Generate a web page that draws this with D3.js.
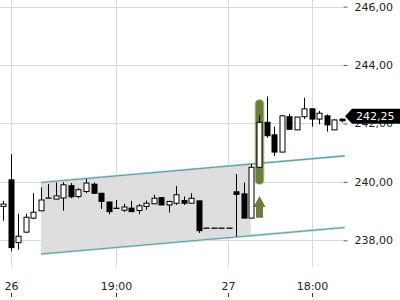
<!DOCTYPE html>
<html>
<head>
<meta charset="utf-8">
<script src="https://cdn.jsdelivr.net/npm/d3@7"></script>
<style>
  body { margin: 0; background: #fff; }
  svg { display: block; font-family: "DejaVu Sans", sans-serif; }
</style>
</head>
<body>
<svg id="chart"></svg>
<script>
// 15 min candles, index 0 = last candle of the previous day
const opens  = [239.16, 240.07, 237.92, 238.28, 238.76, 239.01, 239.45, 239.41, 239.45, 239.87,
                239.50, 239.67, 239.92, 239.61, 239.31, 239.10, 239.03, 239.10, 239.02, 239.16,
                239.25, 239.46, 239.21, 239.27, 239.36, 239.27, 239.35, 238.42, 238.42, 238.42,
                238.42, 239.66, 239.59, 238.76, 240.50, 242.04, 241.61, 241.02, 242.23, 241.78,
                242.23, 242.50, 242.15, 242.26, 241.78, 242.15];
const highs  = [239.35, 240.95, 238.91, 238.91, 239.61, 239.82, 239.93, 239.98, 239.99, 239.96,
                239.78, 240.10, 239.98, 239.62, 239.32, 239.38, 239.25, 239.35, 239.24, 239.36,
                239.56, 239.46, 239.35, 239.86, 239.50, 239.61, 239.35, 238.42, 238.42, 238.42,
                238.42, 240.27, 239.98, 240.62, 242.29, 242.92, 241.89, 242.29, 242.32, 242.22,
                242.88, 242.50, 242.43, 242.31, 242.15, 242.15];
const lows   = [238.67, 237.62, 237.68, 238.26, 238.72, 239.00, 239.45, 239.41, 239.01, 239.44,
                239.44, 239.61, 239.59, 239.07, 238.89, 239.10, 238.97, 238.97, 238.89, 239.04,
                239.25, 239.21, 238.95, 239.21, 239.21, 239.27, 238.25, 238.42, 238.42, 238.42,
                238.42, 238.13, 238.76, 238.76, 240.48, 241.51, 240.89, 241.02, 241.80, 241.78,
                242.15, 241.89, 241.97, 241.72, 241.78, 242.04];
const closes = [239.24, 237.75, 238.14, 238.79, 238.96, 239.38, 239.45, 239.52, 239.90, 239.49,
                239.73, 239.96, 239.61, 239.33, 238.98, 239.10, 239.14, 238.98, 239.18, 239.27,
                239.44, 239.21, 239.33, 239.56, 239.27, 239.44, 238.33, 238.42, 238.42, 238.42,
                238.42, 239.57, 238.76, 240.50, 242.04, 241.58, 241.02, 242.26, 241.80, 242.22,
                242.50, 242.15, 242.35, 241.95, 242.12, 242.09];

const timeTicks  = [1, 15, 29.85, 41];
const timeLabels = ["26", "19:00", "27", "18:00"];
const priceTicks = [238, 240, 242, 244, 246];
const lastPrice = 242.25;

// trend channel: [index, upper, lower] at start and end
const channelStart = [5, 239.98, 237.53];
const channelEnd   = [45.4, 240.89, 238.44];
const channelFillEnd = 32.9;

// breakout marker
const markIndex = 34;
const markRange = [239.93, 242.8];
const arrowRange = [238.77, 239.52];

const width = 400, height = 300;
const svg = d3.select("#chart").attr("width", width).attr("height", height);

const x = d3.scaleLinear().domain([0, 45]).range([3.3, 341.7]);
const y = d3.scaleLinear().domain([238, 246]).range([240.3, 6.6]);
const px = i => Math.round(x(i)) + 0.5;

// grid
svg.append("g").selectAll("line").data(priceTicks).join("line")
  .attr("x1", 0).attr("x2", 343)
  .attr("y1", d => Math.round(y(d)) + 0.5).attr("y2", d => Math.round(y(d)) + 0.5)
  .attr("stroke", "#d9d9d9");
svg.append("g").selectAll("line").data(timeTicks).join("line")
  .attr("x1", d => px(d)).attr("x2", d => px(d))
  .attr("y1", 0).attr("y2", 267)
  .attr("stroke", "#d9d9d9");

// channel fill
const chAt = (i, k) => channelStart[k] + (channelEnd[k] - channelStart[k]) * (i - channelStart[0]) / (channelEnd[0] - channelStart[0]);
svg.append("path")
  .attr("d", d3.line()([
    [x(channelStart[0]), y(channelStart[1])],
    [x(channelFillEnd), y(chAt(channelFillEnd, 1))],
    [x(channelFillEnd), y(chAt(channelFillEnd, 2))],
    [x(channelStart[0]), y(channelStart[2])]
  ]) + "Z")
  .attr("fill", "#dedede");

// channel lines
[1, 2].forEach(k => {
  svg.append("line")
    .attr("x1", x(channelStart[0])).attr("y1", y(channelStart[k]))
    .attr("x2", x(channelEnd[0])).attr("y2", y(channelEnd[k]))
    .attr("stroke", "#c8d8d8").attr("stroke-width", 2.4);
  svg.append("line")
    .attr("x1", x(channelStart[0])).attr("y1", y(channelStart[k]))
    .attr("x2", x(channelEnd[0])).attr("y2", y(channelEnd[k]))
    .attr("stroke", "#5e9fa2").attr("stroke-width", 1.1);
});

// breakout marker behind the candle
const green = "#6c7e3a";
svg.append("rect")
  .attr("x", px(markIndex) - 5).attr("width", 10)
  .attr("y", y(markRange[1]) - 1).attr("height", y(markRange[0]) - y(markRange[1]) + 2)
  .attr("rx", 5).attr("fill", green).attr("opacity", 0.35);
svg.append("rect")
  .attr("x", px(markIndex) - 4).attr("width", 8)
  .attr("y", y(markRange[1])).attr("height", y(markRange[0]) - y(markRange[1]))
  .attr("rx", 4).attr("fill", green);

// arrow
const ax = px(markIndex), tipY = y(arrowRange[1]), baseY = y(arrowRange[0]);
svg.append("path")
  .attr("d", d3.line()([
    [ax, tipY], [ax + 6, tipY + 11], [ax + 3.5, tipY + 11], [ax + 3.5, baseY],
    [ax - 3.5, baseY], [ax - 3.5, tipY + 11], [ax - 6, tipY + 11]
  ]) + "Z")
  .attr("fill", green);

// candles
const idx = d3.range(opens.length);
const candles = svg.append("g").selectAll("g").data(idx).join("g");
candles.append("line")
  .attr("x1", i => px(i)).attr("x2", i => px(i))
  .attr("y1", i => y(highs[i])).attr("y2", i => y(lows[i]))
  .attr("stroke", "#000");
candles.append("rect")
  .attr("x", i => px(i) - 2.5).attr("width", 5)
  .attr("y", i => y(Math.max(opens[i], closes[i])))
  .attr("height", i => Math.max(0.3, Math.abs(y(opens[i]) - y(closes[i]))))
  .attr("fill", i => closes[i] >= opens[i] ? "#fff" : "#000")
  .attr("stroke", "#000");

// price axis
const yAxis = d3.axisRight(y).tickValues(priceTicks).tickSize(4).tickPadding(7)
  .tickFormat(d => d3.format(".2f")(d).replace(".", ","));
svg.append("g").attr("transform", "translate(343.5,0)").call(yAxis)
  .call(g => g.select(".domain").remove())
  .call(g => g.selectAll("line").attr("stroke", "#555"))
  .call(g => g.selectAll("text").attr("fill", "#222").attr("font-size", 11)
    .attr("font-family", "DejaVu Sans, sans-serif"));

// time axis
const xAxis = d3.axisTop(x).tickValues(timeTicks).tickSize(4).tickPadding(3)
  .tickFormat((d, i) => timeLabels[i]);
svg.append("g").attr("transform", "translate(0.5,297)").call(xAxis)
  .call(g => g.select(".domain").remove())
  .call(g => g.selectAll(".tick").attr("transform", d => `translate(${Math.round(x(d))},0)`))
  .call(g => g.selectAll("line").attr("stroke", "#333"))
  .call(g => g.selectAll("text").attr("fill", "#222").attr("font-size", 11)
    .attr("font-family", "DejaVu Sans, sans-serif"));

// last price label
const ly = y(lastPrice);
svg.append("path")
  .attr("d", d3.line()([[345, ly], [352, ly - 7.5], [400, ly - 7.5], [400, ly + 7.5], [352, ly + 7.5]]) + "Z")
  .attr("fill", "#000");
svg.append("text")
  .attr("x", 356).attr("y", ly).attr("dy", "0.36em")
  .attr("fill", "#fff").attr("font-size", 11)
  .text(d3.format(".2f")(lastPrice).replace(".", ","));
</script>
</body>
</html>
